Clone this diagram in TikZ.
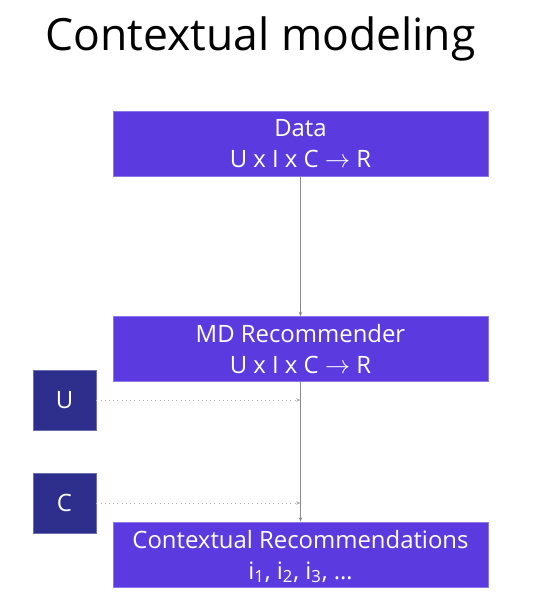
\documentclass[tikz,border=0pt]{standalone}
\usepackage{fontspec}
\setmainfont{Open Sans}
\usepackage{tikz}
\usetikzlibrary{positioning, arrows.meta, calc}
\definecolor{boxviolet}{HTML}{5B3BE0}
\definecolor{boxnavy}{HTML}{2E2F8C}
\definecolor{linegray}{HTML}{8A8A8A}

\begin{document}
\begin{tikzpicture}[x=0.02cm, y=-0.02cm,
  stage/.style={fill=boxviolet, draw=boxviolet!70!white, line width=0.4pt, text=white,
    minimum width=7.5cm, minimum height=1.3cm, inner sep=0pt, align=center,
    font=\fontsize{13.6}{17.5}\selectfont},
  inbox/.style={fill=boxnavy, draw=boxnavy!70!white, line width=0.4pt, text=white,
    minimum width=1.26cm, minimum height=1.2cm, inner sep=0pt,
    font=\fontsize{13.6}{17}\selectfont},
  flow/.style={draw=linegray, line width=0.5pt, -{Stealth[length=2.5pt, width=2pt]}},
  feed/.style={draw=linegray!70, line width=0.4pt, dotted, -{Stealth[length=2.5pt, width=2pt]}}]
\useasboundingbox (0,0) rectangle (553,606);

% Title
\node[anchor=base west, inner sep=0pt, font=\fontsize{25.3}{30}\selectfont] (title) at (45,50) {Contextual modeling};

% Pipeline boxes
\node[stage] (data) at (300.5,143.5) {Data\\U x I x C $\rightarrow$ R};
\node[stage] (md) at (300.5,349) {MD Recommender\\U x I x C $\rightarrow$ R};
\node[stage] (ctx) at (300.5,554.5) {\raisebox{-14pt}[0pt][0pt]{\begin{tabular}[b]{@{}c@{}}Contextual Recommendations\\
  i\textsubscript{1}, i\textsubscript{2}, i\textsubscript{3}, \dots\end{tabular}}};

% Inputs on the left
\node[inbox] (u) at (64.5,400) {U};
\node[inbox] (c) at (64.5,503) {C};

% Connectors
\draw[flow] (data) -- (md);
\draw[flow] (md) -- (ctx);
\coordinate (ujoin) at (u.east -| md.south);
\coordinate (cjoin) at (c.east -| md.south);
\draw[feed] (u.east) -- (ujoin);
\draw[feed] (c.east) -- (cjoin);
\end{tikzpicture}
\end{document}
